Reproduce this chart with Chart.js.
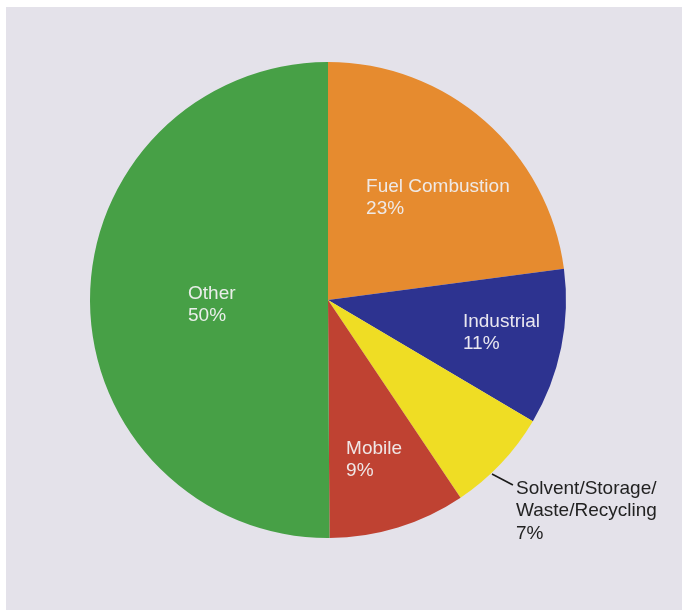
<!DOCTYPE html>
<html>
<head>
<meta charset="utf-8">
<script src="https://cdn.jsdelivr.net/npm/chart.js@4/dist/chart.umd.min.js"></script>
<style>
  html, body { margin: 0; padding: 0; background: #ffffff; }
  #wrap { width: 682px; height: 610px; position: relative; }
</style>
</head>
<body>
<div id="wrap"><canvas id="c" width="682" height="610"></canvas></div>
<script>
// ---- Data ----
const categories = ["Fuel Combustion", "Industrial", "Solvent/Storage/\nWaste/Recycling", "Mobile", "Other"];
const values = [22.9, 10.6, 7.1, 9.3, 50.1];
const percentLabels = ["23%", "11%", "7%", "9%", "50%"];

// ---- Styles / layout ----
const colors = ["#e68b2f", "#2d3390", "#efdd24", "#bf4232", "#47a046"];
const textColors = ["#efe9e6", "#e9e7f0", "#222222", "#efe6e6", "#eaeeea"];
// label anchor (left x, first-line middle y) relative to pie center, in radius units
const labelAnchors = [[0.160, -0.476], [0.567, 0.090], [0.79, 0.792], [0.076, 0.624], [-0.588, -0.028]];
// leader line for outside label (in radius units from centre): [start, end] or null
const leaders = [null, null, [[0.689, 0.731], [0.777, 0.777]], null, null];

const bgPlugin = {
  id: 'bg',
  beforeDraw(chart) {
    const ctx = chart.ctx;
    ctx.save();
    ctx.fillStyle = '#ffffff';
    ctx.fillRect(0, 0, chart.width, chart.height);
    ctx.fillStyle = '#e4e2ea';
    ctx.fillRect(6, 7, chart.width - 6, chart.height - 7);
    ctx.restore();
  }
};

const labelPlugin = {
  id: 'sliceLabels',
  afterDatasetsDraw(chart) {
    const ctx = chart.ctx;
    const meta = chart.getDatasetMeta(0);
    ctx.save();
    ctx.font = '19px "Liberation Sans", Arial, sans-serif';
    ctx.textAlign = 'left';
    ctx.textBaseline = 'middle';
    meta.data.forEach((arc, i) => {
      const cx = arc.x, cy = arc.y, r = arc.outerRadius;
      const lx = cx + labelAnchors[i][0] * r;
      const ly = cy + labelAnchors[i][1] * r;
      const lines = categories[i].split('\n').concat([percentLabels[i]]);
      ctx.fillStyle = textColors[i];
      lines.forEach((t, k) => ctx.fillText(t, lx, ly + k * 22.5));
      if (leaders[i]) {
        ctx.strokeStyle = '#1a1a1a';
        ctx.lineWidth = 1.6;
        ctx.beginPath();
        ctx.moveTo(cx + leaders[i][0][0] * r, cy + leaders[i][0][1] * r);
        ctx.lineTo(cx + leaders[i][1][0] * r, cy + leaders[i][1][1] * r);
        ctx.stroke();
      }
    });
    ctx.restore();
  }
};

new Chart(document.getElementById('c'), {
  type: 'pie',
  data: {
    labels: categories,
    datasets: [{
      data: values,
      backgroundColor: colors,
      borderWidth: 0,
      hoverOffset: 0
    }]
  },
  options: {
    responsive: false,
    animation: false,
    events: [],
    layout: { padding: { left: 90, right: 116, top: 62, bottom: 72 } },
    plugins: {
      legend: { display: false },
      tooltip: { enabled: false }
    }
  },
  plugins: [bgPlugin, labelPlugin]
});
</script>
</body>
</html>
